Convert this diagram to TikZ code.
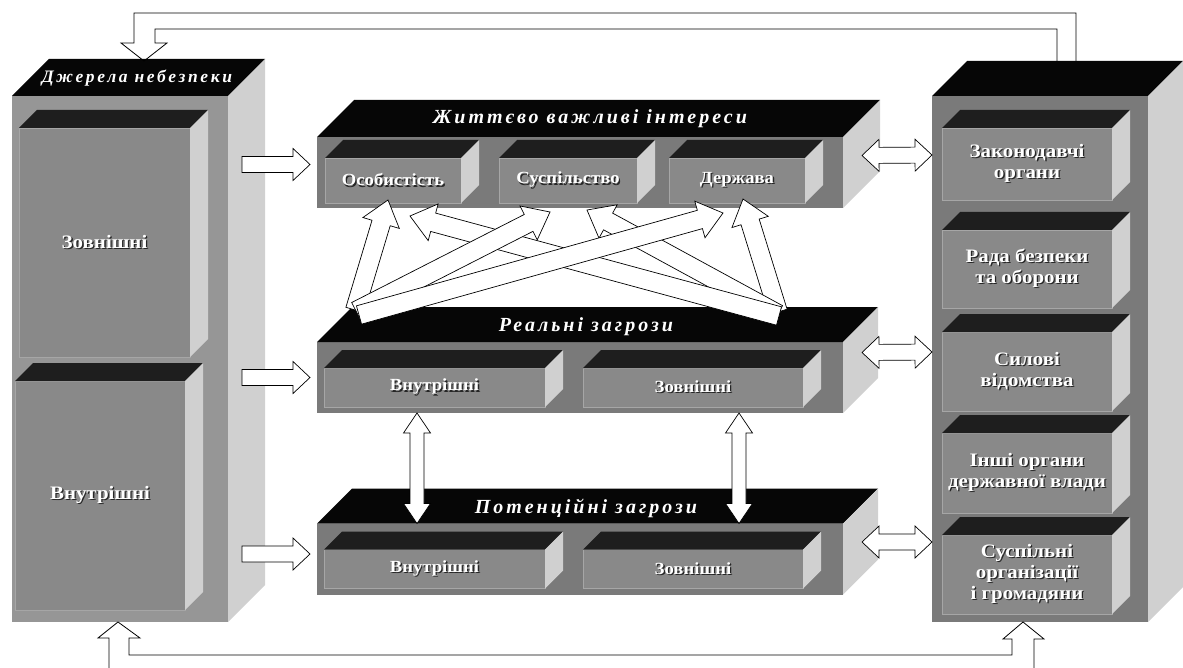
\documentclass[tikz,border=0pt]{standalone}
\usepackage{fontspec}
\setmainfont{Liberation Serif}
\newfontfamily\lblfont[FakeStretch=1.1]{Liberation Serif}
\newfontfamily\ttlfont[LetterSpace=15]{Liberation Serif}
\usetikzlibrary{calc,positioning}

\definecolor{frontgray}{RGB}{122,122,122}
\definecolor{lightfront}{RGB}{150,150,150}
\definecolor{subgray}{RGB}{137,137,137}
\definecolor{sidegray}{RGB}{208,208,208}
\definecolor{topblack}{RGB}{6,6,6}
\definecolor{subtop}{RGB}{30,30,30}

% white text with a dark drop shadow
\newcommand\shd[1]{\leavevmode\rlap{\kern1.3pt\raisebox{-1.3pt}{\textcolor{black!85}{#1}}}#1}

% top and side faces of a box: node, depth, top colour, side colour
\newcommand\boxfaces[4]{%
  \fill[#3] (#1.north west) -- ++(#2,-#2) -- ($(#1.north east)+(#2,-#2)$) -- (#1.north east) -- cycle;
  \fill[#4] (#1.north east) -- ++(#2,-#2) -- ($(#1.south east)+(#2,-#2)$) -- (#1.south east) -- cycle;}

% hollow block arrow: tail, tip, shaft half width, head half width, head length
\newcommand\blockarrow[5]{%
  \path #1 coordinate (ba-s) #2 coordinate (ba-e);
  \path ($(ba-e)!#5!(ba-s)$) coordinate (ba-h);
  \draw[arrowface] ($(ba-s)!#3!90:(ba-e)$) -- ($(ba-h)!#3!-90:(ba-s)$) -- ($(ba-h)!#4!-90:(ba-s)$)
    -- (ba-e) -- ($(ba-h)!#4!90:(ba-s)$) -- ($(ba-h)!#3!90:(ba-s)$) -- ($(ba-s)!#3!-90:(ba-e)$) -- cycle;}

% hollow double arrow: tip, tip, shaft half width, head half width, head length
\newcommand\dblarrow[5]{%
  \path #1 coordinate (da-s) #2 coordinate (da-e);
  \path ($(da-s)!#5!(da-e)$) coordinate (da-a) ($(da-e)!#5!(da-s)$) coordinate (da-b);
  \draw[arrowface] (da-s) -- ($(da-a)!#4!90:(da-e)$) -- ($(da-a)!#3!90:(da-e)$) -- ($(da-b)!#3!-90:(da-s)$)
    -- ($(da-b)!#4!-90:(da-s)$) -- (da-e) -- ($(da-b)!#4!90:(da-s)$) -- ($(da-b)!#3!90:(da-s)$)
    -- ($(da-a)!#3!-90:(da-e)$) -- ($(da-a)!#4!-90:(da-e)$) -- cycle;}

\begin{document}
\begin{tikzpicture}[x=1pt, y=-1pt,
    front/.style={fill=frontgray, inner sep=0pt, outer sep=0pt},
    subfront/.style={fill=subgray, draw=gray!70, line width=0.6pt, outer sep=0pt, inner sep=0pt,
      text=white, align=center, font=\lblfont\bfseries\fontsize{19}{21}\selectfont},
    midfont/.style={font=\lblfont\bfseries\fontsize{17}{19}\selectfont},
    title/.style={text=white, inner sep=0pt, font=\ttlfont\bfseries\itshape\fontsize{20}{20}\selectfont},
    arrowface/.style={fill=white, draw=black, line width=0.7pt, line join=miter},
    feedline/.style={draw=black, line width=0.8pt}]
  \useasboundingbox (0,0) rectangle (1183,668);
  \fill[white] (0,0) rectangle (1183,668);

  % Sources of danger
  \node[front, fill=lightfront, minimum width=216pt, minimum height=526pt] (dzh) at (120,359) {};
  \boxfaces{dzh}{37}{topblack}{sidegray}
  \node[title, font=\ttlfont\bfseries\itshape\fontsize{17.5}{17.5}\selectfont] (dzh-t) at ($(dzh.north)+(17,-18)$) {Джерела небезпеки};
  \node[subfront, minimum width=171pt, minimum height=229pt] (dzh-z) at (104.5,242.5) {\shd{Зовнішні}};
  \boxfaces{dzh-z}{18}{subtop}{sidegray}
  \node[subfront, minimum width=170pt, minimum height=229pt] (dzh-v) at (100,495.5) {\shd{Внутрішні}};
  \boxfaces{dzh-v}{18}{subtop}{sidegray}

  % Bodies of the state
  \node[front, minimum width=216pt, minimum height=526pt] (org) at (1040,359) {};
  \boxfaces{org}{35}{topblack}{sidegray}
  \foreach \name/\y/\h/\txt in {zak/164/72/{\shd{Законодавчі}\\\shd{органи}},
      rada/269/78/{\shd{Рада безпеки}\\\shd{та оборони}},
      syl/371.5/79/{\shd{Силові}\\\shd{відомства}},
      inshi/473/80/{\shd{Інші органи}\\\shd{державної влади}},
      grom/574.5/79/{\shd{Суспільні}\\\shd{організації}\\\shd{і громадяни}}} {
    \node[subfront, minimum width=170pt, minimum height=\h pt] (\name) at (1027,\y) {\txt};
    \boxfaces{\name}{18}{subtop}{sidegray}
  }

  % Vital interests
  \node[front, minimum width=526pt, minimum height=71pt] (zhv) at (580,172.5) {};
  \boxfaces{zhv}{37}{topblack}{sidegray}
  \node[title] (zhv-t) at ($(zhv.north)+(10,-18)$) {Життєво важливі інтереси};
  \foreach \name/\x/\w/\txt in {osob/393/136/Особистість, susp/568/138/Суспільство, derzh/737/136/Держава} {
    \node[subfront, midfont, minimum width=\w pt, minimum height=45pt] (\name) at (\x,180.5) {\shd{\txt}};
    \boxfaces{\name}{18}{subtop}{sidegray}
  }

  % Real and potential threats
  \foreach \name/\y/\txt in {real/377.5/Реальні загрози, pot/559/Потенційні загрози} {
    \node[front, minimum width=526pt, minimum height=71pt] (\name) at (580,\y) {};
    \boxfaces{\name}{35}{topblack}{sidegray}
    \node[title] (\name-t) at ($(\name.north)+(6,-15)$) {\txt};
    \node[subfront, midfont, minimum width=221pt, minimum height=39pt] (\name-v) at (434.5,\y+10) {\shd{Внутрішні}};
    \boxfaces{\name-v}{18}{subtop}{sidegray}
    \node[subfront, midfont, minimum width=220pt, minimum height=39pt] (\name-z) at (693,\y+10) {\shd{Зовнішні}};
    \boxfaces{\name-z}{18}{subtop}{sidegray}
  }

  % Sources -> interests and threats
  \blockarrow{($(zhv.west)+(-75,-8)$)}{($(zhv.west)+(-7,-8)$)}{8pt}{16pt}{17pt}
  \blockarrow{($(real.west)+(-75,0)$)}{($(real.west)+(-7,0)$)}{8pt}{16pt}{17pt}
  \blockarrow{($(pot.west)+(-75,-5)$)}{($(pot.west)+(-7,-5)$)}{8pt}{16pt}{17pt}

  % Interests, threats <-> bodies of the state
  \dblarrow{($(zhv.east)+(19,-17)$)}{($(org.west)+(0,-204)$)}{8pt}{16pt}{17pt}
  \dblarrow{($(real.east)+(19,-25)$)}{($(org.west)+(0,-7)$)}{8pt}{16pt}{17pt}
  \dblarrow{($(pot.east)+(19,-17)$)}{($(org.west)+(0,183)$)}{8pt}{16pt}{17pt}

  % Real <-> potential threats
  \dblarrow{($(real.south west)+(100,0)$)}{($(pot.north west)+(100,0)$)}{7pt}{13.5pt}{20pt}
  \dblarrow{($(real.south west)+(422,0)$)}{($(pot.north west)+(422,0)$)}{7pt}{13.5pt}{20pt}

  % Threats -> interests
  \coordinate (rl) at ($(real.north west)+(38,-32)$);
  \coordinate (rr) at ($(real.north east)+(-65,-30)$);
  \blockarrow{(rr)}{($(derzh.south)+(6,-4)$)}{9.5pt}{19pt}{24pt}
  \blockarrow{($(rr)+(0,2)$)}{($(susp.south)+(19,7)$)}{9.5pt}{19pt}{24pt}
  \blockarrow{($(rr)+(1,4)$)}{($(osob.south)+(17,13)$)}{9.5pt}{19pt}{24pt}
  \blockarrow{(rl)}{($(osob.south)+(-5,-3)$)}{9.5pt}{19pt}{24pt}
  \blockarrow{($(rl)+(1,1)$)}{($(susp.south)+(-18,9)$)}{9.5pt}{19pt}{24pt}
  \blockarrow{($(rl)+(4,5)$)}{($(derzh.south)+(-14,10)$)}{9.5pt}{19pt}{24pt}

  % Feedback lines
  \coordinate (dt) at ($(dzh.north)+(24,-35)$);
  \coordinate (ot) at ($(org.north)+(26.5,-35)$);
  \draw[feedline] ($(ot)+(-9.5,0)$) |- ($(dt)+(11,-32)$) -- ++(0,14) -- ++(12,0) -- (dt)
    -- ++(-23,-18) -- ++(13,0) |- ($(ot)+(9.5,-48)$) -- ($(ot)+(9.5,0)$);
  \coordinate (lb) at ($(dzh.south)+(-2,0)$);
  \coordinate (rb) at ($(org.south)+(-17,0)$);
  \draw[feedline] ($(lb)+(-9,58)$) -- ++(0,-42) -- ++(-11,0) -- (lb) -- ++(22,16) -- ++(-11,0)
    |- ($(rb)+(-11,33)$) -- ++(0,-16) -- ++(-9,0) -- (rb) -- ++(21,17) -- ++(-10,0) -- ++(0,41);
\end{tikzpicture}
\end{document}
